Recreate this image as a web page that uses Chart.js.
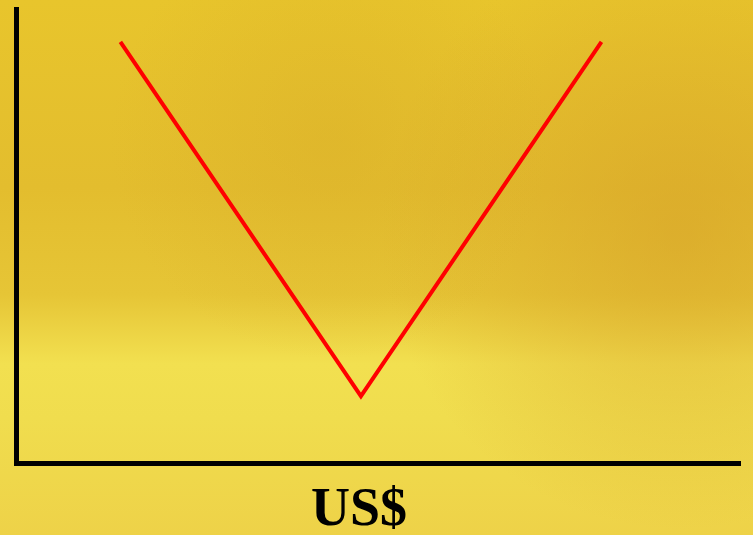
<!DOCTYPE html>
<html>
<head>
<meta charset="utf-8">
<script src="https://cdn.jsdelivr.net/npm/chart.js@4/dist/chart.umd.min.js"></script>
<style>
  html,body{margin:0;padding:0;background:#E9C730;}
  #wrap{width:753px;height:535px;position:relative;}
</style>
</head>
<body>
<div id="wrap"><canvas id="c" width="753" height="535"></canvas></div>
<script>
const xValues = [-1, 0, 1];
const yValues = [1, 0, 1];
const axisTitle = 'US$';

const bgPlugin = {
  id: 'bg',
  beforeDraw(chart) {
    const ctx = chart.ctx, w = chart.width, h = chart.height;
    ctx.save();
    let g = ctx.createLinearGradient(0, 0, 0, h);
    g.addColorStop(0, '#E8C52C');
    g.addColorStop(0.35, '#E3BD2E');
    g.addColorStop(0.55, '#E6C536');
    g.addColorStop(0.68, '#F2E050');
    g.addColorStop(0.78, '#F0DD4E');
    g.addColorStop(1, '#EED248');
    ctx.fillStyle = g;
    ctx.fillRect(0, 0, w, h);
    let r = ctx.createRadialGradient(680, 230, 10, 680, 230, 300);
    r.addColorStop(0, 'rgba(214,160,40,0.55)');
    r.addColorStop(1, 'rgba(214,160,40,0)');
    ctx.fillStyle = r;
    ctx.fillRect(0, 0, w, h);
    let r2 = ctx.createRadialGradient(330, 140, 10, 330, 140, 220);
    r2.addColorStop(0, 'rgba(215,170,40,0.35)');
    r2.addColorStop(1, 'rgba(215,170,40,0)');
    ctx.fillStyle = r2;
    ctx.fillRect(0, 0, w, h);
    ctx.restore();
  }
};

const titlePlugin = {
  id: 'xTitle',
  afterDraw(chart) {
    const ctx = chart.ctx;
    const x = chart.scales.x.getPixelForValue(0) - 2;
    ctx.save();
    ctx.fillStyle = '#000';
    ctx.font = 'bold 54px "Liberation Serif", "Times New Roman", serif';
    ctx.textAlign = 'center';
    ctx.textBaseline = 'alphabetic';
    ctx.fillText(axisTitle, x, 525);
    ctx.restore();
  }
};

new Chart(document.getElementById('c'), {
  type: 'line',
  data: {
    datasets: [{
      data: xValues.map((x, i) => ({x: x, y: yValues[i]})),
      borderColor: '#FF0000',
      borderWidth: 4,
      borderJoinStyle: 'miter',
      pointRadius: 0,
      tension: 0,
      clip: false
    }]
  },
  options: {
    responsive: false,
    animation: false,
    events: [],
    layout: { padding: { left: 16, top: 9, right: 13, bottom: 0 } },
    plugins: { legend: { display: false }, tooltip: { enabled: false } },
    scales: {
      x: {
        type: 'linear',
        min: -1.434,
        max: 1.576,
        grid: { display: false, drawTicks: false },
        ticks: { display: false },
        border: { display: true, color: '#000', width: 5 },
        title: { display: false },
        afterFit(s) { s.height = 72; }
      },
      y: {
        min: -0.189,
        max: 1.093,
        grid: { display: false, drawTicks: false },
        ticks: { display: false },
        border: { display: true, color: '#000', width: 5 },
        afterFit(s) { s.width = 0; }
      }
    }
  },
  plugins: [bgPlugin, titlePlugin]
});
</script>
</body>
</html>
